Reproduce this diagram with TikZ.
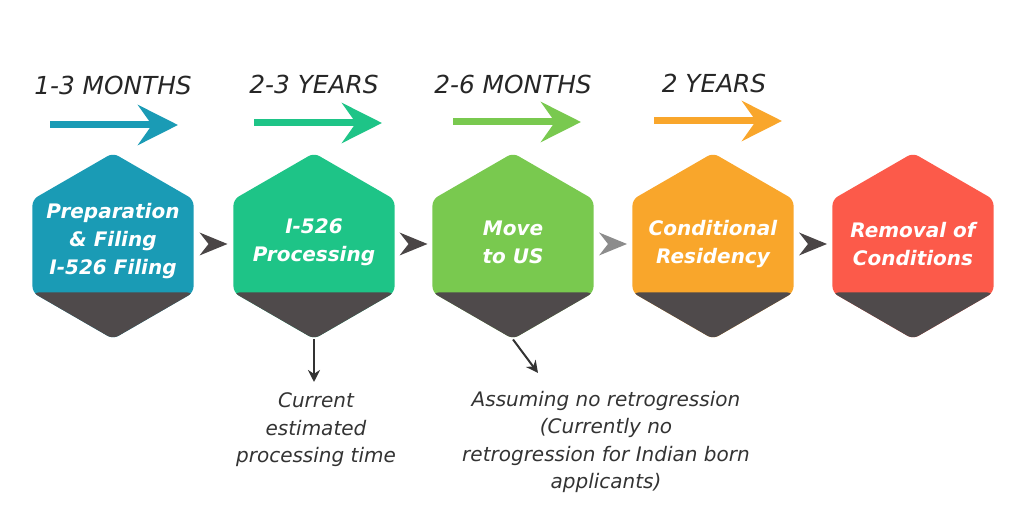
\documentclass[tikz,border=0pt]{standalone}
\usepackage{fontspec}
\setmainfont{DejaVu Sans}
\usetikzlibrary{shapes.geometric,arrows.meta,calc}

\definecolor{stepteal}{HTML}{1A9BB5}
\definecolor{stepgreen}{HTML}{1EC487}
\definecolor{steplime}{HTML}{79C94F}
\definecolor{steporange}{HTML}{F9A62B}
\definecolor{stepred}{HTML}{FC5A4A}
\definecolor{hexgray}{HTML}{4F4A4B}
\definecolor{chevgray}{HTML}{4A4546}
\definecolor{notegray}{HTML}{333333}

\begin{document}
\begin{tikzpicture}[x=0.5pt, y=-0.5pt,
    hex/.style={regular polygon, regular polygon sides=6, shape border rotate=30, minimum size=93pt, inner sep=0pt, rounded corners=3pt,
        path picture={\fill[hexgray] ([yshift=-23.25pt]path picture bounding box.west) rectangle (path picture bounding box.south east);}},
    hextext/.style={text=white, align=center, font=\bfseries\itshape\fontsize{10}{14}\selectfont},
    dur/.style={text=black!85, font=\itshape\fontsize{12.4}{15}\selectfont},
    span/.style={line width=3.5pt, -{Stealth[length=20pt, width=20pt, inset=7pt]}},
    chev/.style={fill=chevgray},
    note/.style={text=notegray, align=center, font=\itshape\fontsize{10}{13.75}\selectfont},
    pointer/.style={draw=notegray, line width=1pt, -{Stealth[length=6pt, width=6pt]}}
]
    \useasboundingbox (0,0) rectangle (1024,512);

    % durations
    \node[dur] (dur1) at (113,85) {1-3 MONTHS};
    \node[dur] (dur2) at (314,84) {2-3 YEARS};
    \node[dur] (dur3) at (513,84) {2-6 MONTHS};
    \node[dur] (dur4) at (714,83) {2 YEARS};

    \coordinate (s1) at (50,125);  \coordinate (e1) at (178,125);
    \coordinate (s2) at (254,123); \coordinate (e2) at (382,123);
    \coordinate (s3) at (453,122); \coordinate (e3) at (581,122);
    \coordinate (s4) at (654,121); \coordinate (e4) at (782,121);
    \draw[span, stepteal] (s1) -- (e1);
    \draw[span, stepgreen] (s2) -- (e2);
    \draw[span, steplime] (s3) -- (e3);
    \draw[span, steporange] (s4) -- (e4);

    % steps
    \node[hex, fill=stepteal] (hex1) at (113,246) {};
    \node[hex, fill=stepgreen] (hex2) at (314,246) {};
    \node[hex, fill=steplime] (hex3) at (513,246) {};
    \node[hex, fill=steporange] (hex4) at (713,246) {};
    \node[hex, fill=stepred] (hex5) at (913,246) {};

    \node[hextext] (txt1) at ($(hex1)+(0,-5)$) {Preparation\\\& Filing\\I-526 Filing};
    \node[hextext] (txt2) at ($(hex2)+(0,-4)$) {I-526\\Processing};
    \node[hextext] (txt3) at ($(hex3)+(0,-4)$) {Move\\to US};
    \node[hextext] (txt4) at ($(hex4)+(0,-2)$) {Conditional\\Residency};
    \node[hextext] (txt5) at ($(hex5)+(0,-2)$) {Removal of\\Conditions};

    % chevrons between steps
    \fill[chev] ($(hex1)!0.5!(hex2)$) ++(14,-2) -- ++(-28,-11.5) -- ++(9,11.5) -- ++(-9,11.5) -- cycle;
    \fill[chev] ($(hex2)!0.5!(hex3)$) ++(14,-2) -- ++(-28,-11.5) -- ++(9,11.5) -- ++(-9,11.5) -- cycle;
    \fill[chev, gray!90] ($(hex3)!0.5!(hex4)$) ++(14,-2) -- ++(-28,-11.5) -- ++(9,11.5) -- ++(-9,11.5) -- cycle;
    \fill[chev] ($(hex4)!0.5!(hex5)$) ++(14,-2) -- ++(-28,-11.5) -- ++(9,11.5) -- ++(-9,11.5) -- cycle;

    % notes
    \coordinate (p1) at (314,382);
    \coordinate (p2) at (538,373);
    \draw[pointer] (hex2.corner 4) -- (p1);
    \draw[pointer] (hex3.corner 4) -- (p2);

    \node[note] (note1) at (316,430) {Current\\estimated\\processing time};
    \node[note] (note2) at (606,442) {Assuming no retrogression\\(Currently no\\retrogression for Indian born\\applicants)};
\end{tikzpicture}
\end{document}
